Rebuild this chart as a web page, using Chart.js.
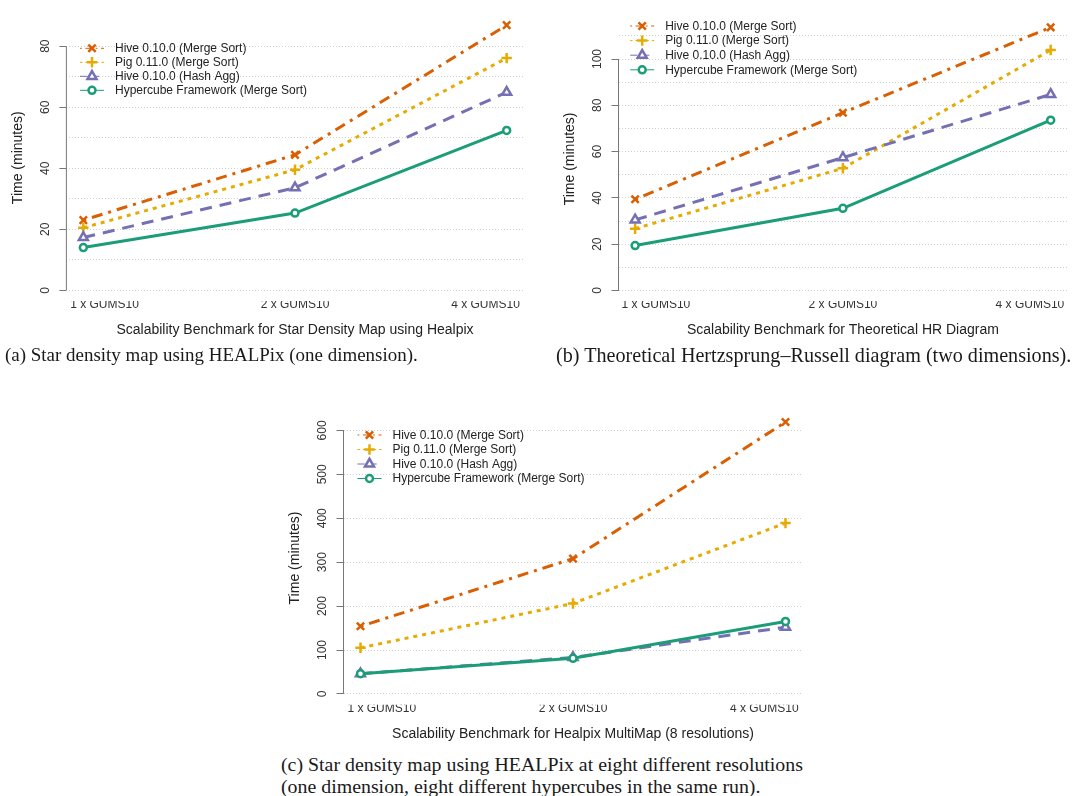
<!DOCTYPE html>
<html>
<head>
<meta charset="utf-8">
<title>Scalability benchmarks</title>
<script src="https://cdn.jsdelivr.net/npm/chart.js@4.4.1/dist/chart.umd.min.js"></script>
<style>
  body { margin: 0; background: #fff; }
  #page { position: relative; width: 1075px; height: 796px; overflow: hidden; background: #fff; }
  canvas { position: absolute; }
  .caption { position: absolute; font-family: "Liberation Serif", "Times New Roman", serif; color: #1a1a1a; white-space: nowrap; line-height: 1; }
</style>
</head>
<body>
<div id="page">
  <canvas id="chartA"></canvas>
  <canvas id="chartB"></canvas>
  <canvas id="chartC"></canvas>
  <div class="caption" id="capA">(a) Star density map using HEALPix (one dimension).</div>
  <div class="caption" id="capB">(b) Theoretical Hertzsprung–Russell diagram (two dimensions).</div>
  <div class="caption" id="capC1">(c) Star density map using HEALPix at eight different resolutions</div>
  <div class="caption" id="capC2">(one dimension, eight different hypercubes in the same run).</div>
</div>
<script>
//Categories and series names shared by the three panels.
const categories = ["1 x GUMS10", "2 x GUMS10", "4 x GUMS10"];
const seriesNames = [
  "Hive 0.10.0 (Merge Sort)",
  "Pig 0.11.0 (Merge Sort)",
  "Hive 0.10.0 (Hash Agg)",
  "Hypercube Framework (Merge Sort)"
];

//(a) Star Density Map using Healpix, time in minutes.
const hiveMergeA = [23.0, 44.4, 86.9];
const pigMergeA = [20.5, 39.5, 76.1];
const hiveHashA = [17.3, 33.6, 64.9];
const hypercubeA = [14.0, 25.3, 52.4];
const yTicksA = [0, 20, 40, 60, 80];

//(b) Theoretical HR Diagram, time in minutes.
const hiveMergeB = [39.4, 76.8, 113.7];
const pigMergeB = [26.7, 52.8, 103.9];
const hiveHashB = [30.5, 57.4, 84.7];
const hypercubeB = [19.4, 35.5, 73.6];
const yTicksB = [0, 20, 40, 60, 80, 100];

//(c) Healpix MultiMap (8 resolutions), time in minutes.
const hiveMergeC = [154, 308, 619];
const pigMergeC = [105, 206, 389];
const hiveHashC = [46, 83, 152];
const hypercubeC = [46, 81, 165];
const yTicksC = [0, 100, 200, 300, 400, 500, 600];

//Where the category names sit on the x axis (the R figure pulls the outer ones inwards).
const xLabelPos = [1.1, 2, 2.9];

//Series styles, same order as seriesNames (RColorBrewer Dark2).
const seriesStyles = [
  { color: "#D95F02", dash: [3, 6, 11, 6], point: "crossRot", radius: 5.2 },
  { color: "#E6AB02", dash: [4, 5], point: "cross", radius: 5.2 },
  { color: "#7570B3", dash: [12, 8], point: "triangle", radius: 5.2 },
  { color: "#1B9E77", dash: [], point: "circle", radius: 3.5 }
];

Chart.defaults.font.family = "'Liberation Sans', Arial, sans-serif";
Chart.defaults.color = "#333";

const Y_AXIS_W = 66.5;
const X_AXIS_H = 44;

//Width of a string in the tick font, used to centre the rotated y labels.
function textWidth(str, size) {
  let ctx = document.createElement("canvas").getContext("2d");
  ctx.font = size + "px 'Liberation Sans'";
  return ctx.measureText(str).width;
}

//Draws the R style y axis line, which only spans the labelled ticks.
const rAxisLine = {
  id: "rAxisLine",
  afterDraw(chart, args, opts) {
    let y = chart.scales.y;
    let x0 = chart.chartArea.left;
    let ctx = chart.ctx;
    ctx.save();
    ctx.strokeStyle = "#777";
    ctx.lineWidth = 1;
    ctx.beginPath();
    ctx.moveTo(x0, y.getPixelForValue(opts.from));
    ctx.lineTo(x0, y.getPixelForValue(opts.to));
    ctx.stroke();
    ctx.restore();
  }
};

//R style legend: thin line sample, marker on top of it, then the label.
const rLegend = {
  id: "rLegend",
  afterDraw(chart, args, opts) {
    let ctx = chart.ctx;
    ctx.save();
    chart.data.datasets.forEach((ds, i) => {
      let y = opts.y + i * opts.gap;
      ctx.strokeStyle = ds.borderColor;
      ctx.lineWidth = 1;
      ctx.setLineDash(ds.borderDash.length ? ds.borderDash.map(d => d * 0.6) : []);
      ctx.beginPath();
      ctx.moveTo(opts.x - 12, y);
      ctx.lineTo(opts.x + 12, y);
      ctx.stroke();
      ctx.setLineDash([]);

      ctx.fillStyle = "#fff";
      ctx.lineWidth = ds.pointBorderWidth;
      Chart.helpers.drawPoint(ctx, {
        pointStyle: ds.pointStyle,
        radius: ds.pointRadius,
        rotation: 0,
        borderWidth: ds.pointBorderWidth
      }, opts.x, y);

      ctx.fillStyle = "#222";
      ctx.font = "12px 'Liberation Sans'";
      ctx.textBaseline = "middle";
      ctx.fillText(ds.label, opts.x + 23, y + 0.5);
    });
    ctx.restore();
  }
};

function buildDatasets(seriesList) {
  return seriesList.map((values, i) => {
    let s = seriesStyles[i];
    return {
      label: seriesNames[i],
      data: values.map((v, j) => ({ x: j + 1, y: v })),
      borderColor: s.color,
      borderWidth: 3,
      borderDash: s.dash,
      pointStyle: s.point,
      pointRadius: s.radius,
      pointHoverRadius: s.radius,
      pointBorderWidth: 2.5,
      pointBorderColor: s.color,
      pointBackgroundColor: "#fff",
      tension: 0,
      fill: false,
      //Later series are drawn on top, as in the original plot.
      order: seriesList.length - i
    };
  });
}

function makeChart(id, panel, seriesList, yTicks, gridStep) {
  let canvas = document.getElementById(id);
  canvas.width = panel.width;
  canvas.height = panel.height;
  canvas.style.left = panel.left + "px";
  canvas.style.top = panel.top + "px";

  //R pads each axis range by 4%.
  let yTop = Math.max(...seriesList.flat());
  let gridValues = [];
  for (let v = 0; v <= yTop; v += gridStep) gridValues.push(v);

  let widest = Math.max(...yTicks.map(t => textWidth(String(t), 12)));

  return new Chart(canvas, {
    type: "line",
    data: { datasets: buildDatasets(seriesList) },
    options: {
      responsive: false,
      animation: false,
      events: [],
      layout: {
        padding: {
          left: panel.area.left - panel.left - Y_AXIS_W,
          top: panel.area.top - panel.top,
          right: panel.left + panel.width - panel.area.right,
          bottom: panel.top + panel.height - panel.area.bottom - X_AXIS_H
        }
      },
      plugins: {
        legend: { display: false },
        tooltip: { enabled: false },
        rLegend: panel.legend,
        rAxisLine: { from: yTicks[0], to: yTicks[yTicks.length - 1] }
      },
      scales: {
        x: {
          type: "linear",
          min: 1 - 0.04 * (categories.length - 1),
          max: categories.length + 0.04 * (categories.length - 1),
          afterBuildTicks: scale => { scale.ticks = xLabelPos.map(v => ({ value: v })); },
          afterFit: scale => { scale.height = X_AXIS_H; },
          grid: { display: false, drawTicks: false },
          border: { display: false },
          ticks: {
            autoSkip: false,
            maxRotation: 0,
            padding: -3.5,
            font: { size: 12 },
            color: "#333",
            callback: (v, i) => categories[i]
          },
          title: {
            display: true,
            text: panel.xTitle,
            font: { size: 14 },
            color: "#222",
            padding: { top: 0, bottom: 6 }
          }
        },
        y: {
          type: "linear",
          min: -0.04 * yTop,
          max: 1.04 * yTop,
          afterBuildTicks: scale => { scale.ticks = gridValues.map(v => ({ value: v })); },
          afterFit: scale => { scale.width = Y_AXIS_W; },
          grid: {
            color: "#d0d0d0",
            lineWidth: 1,
            drawTicks: true,
            tickLength: 7,
            tickWidth: 1,
            tickBorderDash: [],
            tickColor: ctx => yTicks.includes(ctx.tick.value) ? "#777" : "rgba(0,0,0,0)"
          },
          border: { display: false, dash: [1, 2] },
          ticks: {
            autoSkip: false,
            minRotation: 90,
            maxRotation: 90,
            crossAlign: "center",
            padding: 14 - widest / 2,
            font: { size: 12 },
            color: "#333",
            callback: v => yTicks.includes(v) ? String(v) : ""
          },
          title: {
            display: true,
            text: "Time (minutes)",
            font: { size: 14 },
            color: "#222",
            padding: { top: 9.7, bottom: 0 }
          }
        }
      }
    },
    plugins: [rAxisLine, rLegend]
  });
}

//Panel geometry on the page: canvas box and the plot region inside it.
const panelA = {
  left: 0, top: 0, width: 540, height: 346,
  area: { left: 66.4, top: 6.4, right: 523.6, bottom: 300.9 },
  xTitle: "Scalability Benchmark for Star Density Map using Healpix",
  legend: { x: 92, y: 48.3, gap: 14 }
};
const panelB = {
  left: 551.5, top: 0, width: 523.5, height: 346,
  area: { left: 618, top: 16.8, right: 1074.3, bottom: 301 },
  xTitle: "Scalability Benchmark for Theoretical HR Diagram",
  legend: { x: 90.2, y: 26, gap: 14.6 }
};
const panelC = {
  left: 276.5, top: 400, width: 540, height: 350,
  area: { left: 343, top: 406.1, right: 802, bottom: 704.8 },
  xTitle: "Scalability Benchmark for Healpix MultiMap (8 resolutions)",
  legend: { x: 92.5, y: 35, gap: 14.5 }
};

makeChart("chartA", panelA, [hiveMergeA, pigMergeA, hiveHashA, hypercubeA], yTicksA, 10);
makeChart("chartB", panelB, [hiveMergeB, pigMergeB, hiveHashB, hypercubeB], yTicksB, 10);
makeChart("chartC", panelC, [hiveMergeC, pigMergeC, hiveHashC, hypercubeC], yTicksC, 100);

//Captions: scale the serif font so each first line spans the same width as in the paper.
function placeCaption(ids, left, centerY, lineGap, targetWidth) {
  let ctx = document.createElement("canvas").getContext("2d");
  ctx.font = "20px 'Liberation Serif'";
  let w = ctx.measureText(document.getElementById(ids[0]).textContent).width;
  let size = 20 * targetWidth / w;
  ids.forEach((id, i) => {
    let el = document.getElementById(id);
    el.style.fontSize = size + "px";
    el.style.left = left + "px";
    el.style.top = (centerY + i * lineGap - size / 2) + "px";
  });
}

placeCaption(["capA"], 5, 355, 0, 413);
placeCaption(["capB"], 556, 355, 0, 516);
placeCaption(["capC1", "capC2"], 281, 765, 22, 522);
</script>
</body>
</html>
